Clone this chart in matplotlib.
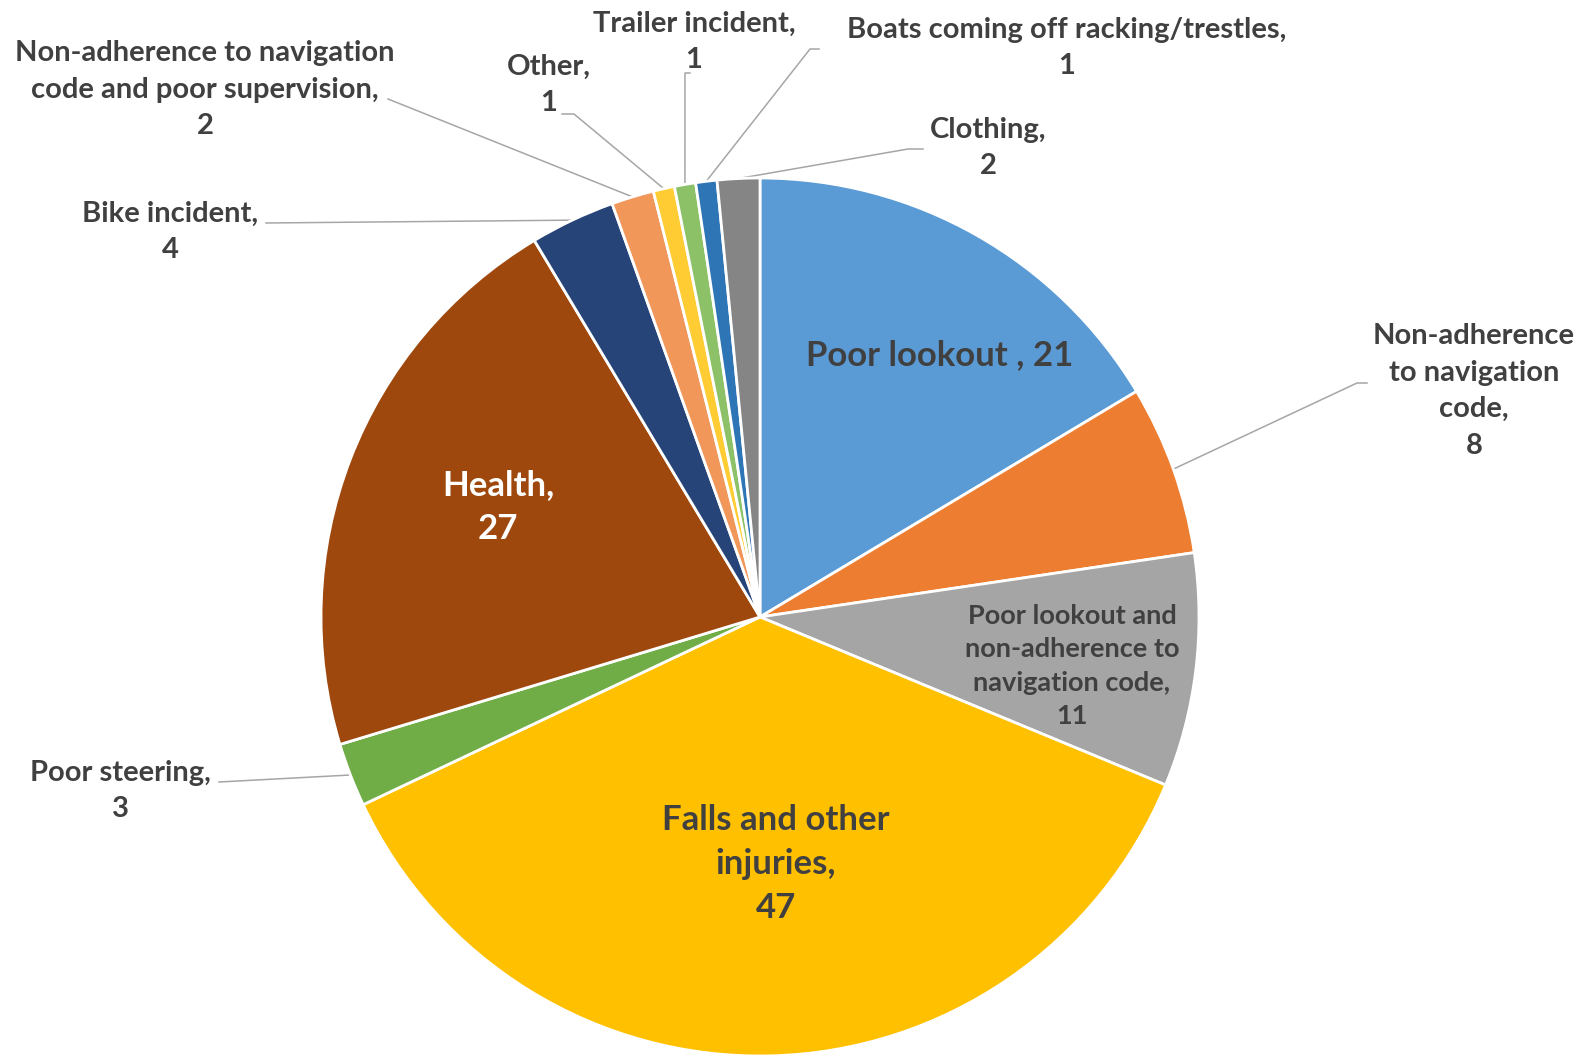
import matplotlib
matplotlib.use("Agg")
import matplotlib.pyplot as plt
import numpy as np

plt.rcParams['font.family'] = ['Lato', 'DejaVu Sans']

# incident categories, clockwise from 12 o'clock
categories = [
    "Poor lookout ",
    "Non-adherence to navigation code",
    "Poor lookout and non-adherence to navigation code",
    "Falls and other injuries",
    "Poor steering",
    "Health",
    "Bike incident",
    "Non-adherence to navigation code and poor supervision",
    "Other",
    "Trailer incident",
    "Boats coming off racking/trestles",
    "Clothing",
]
counts = [21, 8, 11, 47, 3, 27, 4, 2, 1, 1, 1, 2]
colors = ["#5B9BD5", "#ED7D31", "#A5A5A5", "#FFC000", "#70AD47", "#9E480E",
          "#264478", "#F1975A", "#FFCD33", "#8CC168", "#2E75B6", "#858585"]

# label text as broken over lines
label_text = [
    "Poor lookout , {}",
    "Non-adherence\nto navigation\ncode,\n{}",
    "Poor lookout and\nnon-adherence to\nnavigation code,\n{}",
    "Falls and other\ninjuries,\n{}",
    "Poor steering,\n{}",
    "Health,\n{}",
    "Bike incident,\n{}",
    "Non-adherence to navigation\ncode and poor supervision,\n{}",
    "Other,\n{}",
    "Trailer incident,\n{}",
    "Boats coming off racking/trestles,\n{}",
    "Clothing,\n{}",
]

W, H = 1594, 1057
cx, cy, R = 760, 1057 - 617, 439
TXT = "#404040"
LEAD = "#A6A6A6"

fig = plt.figure(figsize=(W / 100, H / 100), dpi=100)
ax = fig.add_axes([0, 0, 1, 1])

wedges, _ = ax.pie(counts, colors=colors, startangle=90, counterclock=False,
                   center=(cx, cy), radius=R, frame=True,
                   wedgeprops=dict(edgecolor="white", linewidth=2))
ax.set_xlim(0, W)
ax.set_ylim(0, H)
ax.axis("off")


def flip(y):
    return H - y


# inside labels: (index, x, y, size, colour)
inner = [
    (0, 940, 355, 25, TXT),
    (2, 1072, 666, 19.5, TXT),
    (3, 776, 864, 25, TXT),
    (5, 498, 507, 25, "white"),
]
for i, x, y, size, col in inner:
    ax.text(x, flip(y), label_text[i].format(counts[i]), ha="center", va="center",
            fontsize=size, fontweight="bold", color=col, linespacing=1.47)

# outside labels: (index, text x, text y, leader path after the wedge edge)
outer = [
    (1, 1474, 391, [(1357, 383), (1367, 383)]),
    (4, 120, 791, [(219, 782)]),
    (6, 170, 232, [(266, 223)]),
    (7, 205, 90, [(388, 99)]),
    (8, 549, 85, [(574, 114), (562, 114)]),
    (9, 694, 42, [(685, 73), (690, 73)]),
    (10, 1067, 48, [(810, 49), (819, 49)]),
    (11, 988, 148, [(908, 149), (923, 149)]),
]
for i, x, y, path in outer:
    w = wedges[i]
    mid = np.deg2rad((w.theta1 + w.theta2) / 2)
    x0, y0 = cx + R * np.cos(mid), cy + R * np.sin(mid)
    xs = [x0] + [p[0] for p in path]
    ys = [y0] + [flip(p[1]) for p in path]
    ax.plot(xs, ys, color=LEAD, linewidth=1.1, zorder=0)
    ax.text(x, flip(y), label_text[i].format(counts[i]), ha="center", va="center",
            fontsize=21, fontweight="bold", color=TXT, linespacing=1.5)

fig.savefig("out.png", dpi=100, facecolor="white")
